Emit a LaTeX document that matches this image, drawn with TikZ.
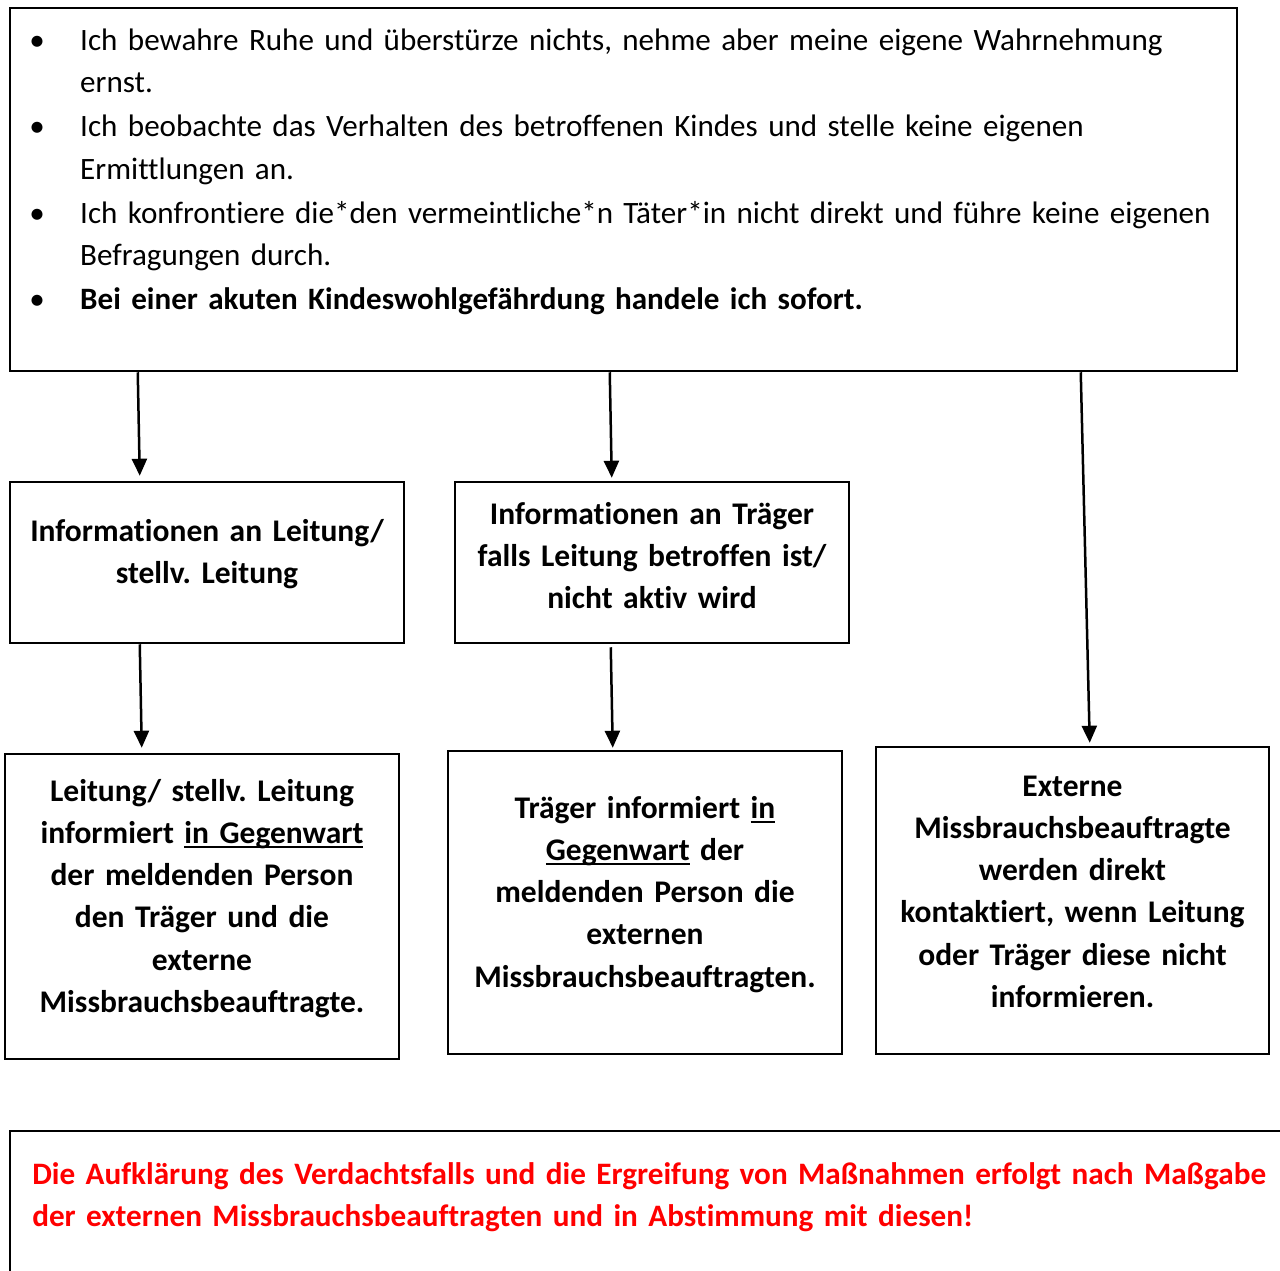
\documentclass[tikz,border=0pt]{standalone}
\usepackage{fontspec}
\setmainfont{Carlito}[Ligatures=NoCommon]
\usetikzlibrary{arrows.meta}
\newcommand{\punkt}[1]{\noindent\hangindent=51pt\hangafter=1\makebox[51pt][l]{\textbullet}#1\par}
\newcommand{\unter}[1]{\leavevmode\setbox0\hbox{#1}\rlap{\rule[-4.5pt]{\wd0}{2pt}}\box0\relax}
\frenchspacing
\begin{document}
\begin{tikzpicture}[x=1pt, y=-1pt, >={Triangle[length=17pt, width=15pt]}, line width=2.5pt,
  box/.style={draw, rectangle, inner sep=0pt},
  txt/.style={anchor=base, align=center, inner sep=0pt, text width=385pt,
    font=\bfseries\fontsize{31.5}{42.3}\selectfont}]
\useasboundingbox (0,0) rectangle (1280,1270);
\clip (0,0) rectangle (1280,1270);
% Rahmen
\node[box, minimum width=1227pt, minimum height=363pt] (info) at (623.5,189.5) {};
\node[box, minimum width=394pt, minimum height=161pt] (lt) at (207,562.5) {};
\node[box, minimum width=394pt, minimum height=161pt] (tr) at (652,562.5) {};
\node[box, minimum width=394pt, minimum height=305pt] (lm) at (202,906.5) {};
\node[box, minimum width=394pt, minimum height=303pt] (tm) at (645,902.5) {};
\node[box, minimum width=393pt, minimum height=307pt] (ext) at (1072.5,900.5) {};
\node[box, minimum width=1290pt, minimum height=159pt] (hinweis) at (655,1210.5) {};
% Texte
\node[anchor=base west, inner sep=0pt, text width=1250pt,
  font=\fontsize{31.1}{42.5}\selectfont] (liste) at (28,50) {\parskip=1.5pt\raggedright
  \punkt{Ich bewahre Ruhe und überstürze nichts, nehme aber meine eigene Wahrnehmung\newline ernst.}
  \punkt{Ich beobachte das Verhalten des betroffenen Kindes und stelle keine eigenen\newline Ermittlungen an.}
  \punkt{Ich konfrontiere die*den vermeintliche*n Täter*in nicht direkt und führe keine eigenen\newline Befragungen durch.}
  \punkt{\textbf{Bei einer akuten Kindeswohlgefährdung handele ich sofort.}}};
\node[txt] (lt-t) at (207,541) {Informationen an Leitung/\\stellv. Leitung};
\node[txt] (tr-t) at (652,524) {Informationen an Träger\\falls Leitung betroffen ist/\\nicht aktiv wird};
\node[txt] (lm-t) at (202,801) {Leitung/ stellv. Leitung\\informiert \unter{in Gegenwart}\\der meldenden Person\\den Träger und die\\externe\\Missbrauchsbeauftragte.};
\node[txt] (tm-t) at (645,818) {Träger informiert \unter{in}\\\unter{Gegenwart} der\\meldenden Person die\\externen\\Missbrauchsbeauftragten.};
\node[txt] (ext-t) at (1072.5,796) {Externe\\Missbrauchsbeauftragte\\werden direkt\\kontaktiert, wenn Leitung\\oder Träger diese nicht\\informieren.};
\node[txt, anchor=base west, align=left, text width=1262pt, text=red,
  font=\bfseries\fontsize{31.2}{42.3}\selectfont] (hinweis-t) at (31,1184)
  {Die Aufklärung des Verdachtsfalls und die Ergreifung von Maßnahmen erfolgt nach Maßgabe\\der externen Missbrauchsbeauftragten und in Abstimmung mit diesen!};
% Pfeile
\draw[->] ([xshift=129pt]info.south west) -- ([xshift=131pt, yshift=5pt]lt.north west);
\draw[->] ([xshift=601pt]info.south west) -- ([xshift=158pt, yshift=3pt]tr.north west);
\draw[->] ([xshift=1072pt]info.south west) -- ([xshift=215pt, yshift=3pt]ext.north west);
\draw[->] ([xshift=131pt]lt.south west) -- ([xshift=138pt, yshift=5pt]lm.north west);
\draw[->] ([xshift=157pt, yshift=-3pt]tr.south west) -- ([xshift=166pt, yshift=2pt]tm.north west);
\end{tikzpicture}
\end{document}
